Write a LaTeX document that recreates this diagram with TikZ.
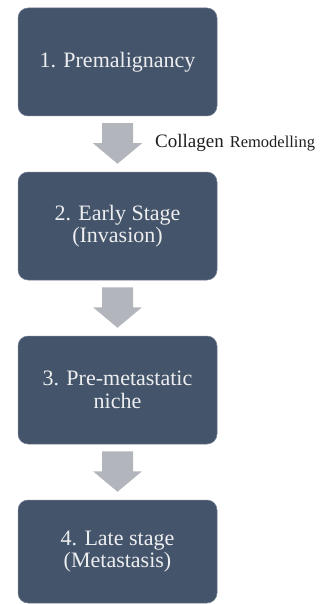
\documentclass[tikz,border=0pt]{standalone}
\usepackage{fontspec}
\setmainfont[Extension=.ttf, UprightFont=*-Regular, BoldFont=*-Bold]{LiberationSerif}
\usetikzlibrary{calc}
\definecolor{boxblue}{HTML}{44546A}
\definecolor{arrowgrey}{HTML}{B2B5BB}
\definecolor{boxtext}{HTML}{EDEEF0}
\definecolor{captext}{HTML}{1E1E1E}
\newcommand\blockarrow[2]{%
  \fill[arrowgrey] ($(#1.south)+(-15.5,7)$) -- ($(#1.south)+(15.5,7)$) --
    ($(#1.south)+(15.5,27)$) -- ($(#1.south)+(24.5,27)$) --
    ($(#2.north)+(0,-8)$) -- ($(#1.south)+(-24.5,27)$) --
    ($(#1.south)+(-15.5,27)$) -- cycle;}
\begin{document}
\begin{tikzpicture}[x=1pt,y=-1pt,
  stagebox/.style={draw=boxblue!75!white, line width=0.5pt, fill=boxblue,
    rounded corners=10pt, minimum width=199pt, minimum height=108pt,
    text=boxtext, align=center, inner sep=0pt,
    font=\rmfamily\fontsize{22}{22.5}\selectfont}]
\useasboundingbox (0,0) rectangle (323,604);
\node[stagebox] (b1) at (117.5,62) {1. Premalignancy};
\node[stagebox] (b2) at (117.5,226) {2. Early Stage\\(Invasion)};
\node[stagebox] (b3) at (117.5,390) {3. Pre-metastatic\\niche};
\node[stagebox, minimum height=103pt] (b4) at (117.5,551.5) {4. Late stage\\(Metastasis)};
\blockarrow{b1}{b2}
\blockarrow{b2}{b3}
\blockarrow{b3}{b4}
\node[anchor=base west, inner sep=0pt, text=captext, font=\rmfamily] (cap) at (155,148)
  {\fontsize{19}{19}\selectfont Collagen\hspace{6pt}\fontsize{16.5}{16.5}\selectfont Remodelling};
\end{tikzpicture}
\end{document}
